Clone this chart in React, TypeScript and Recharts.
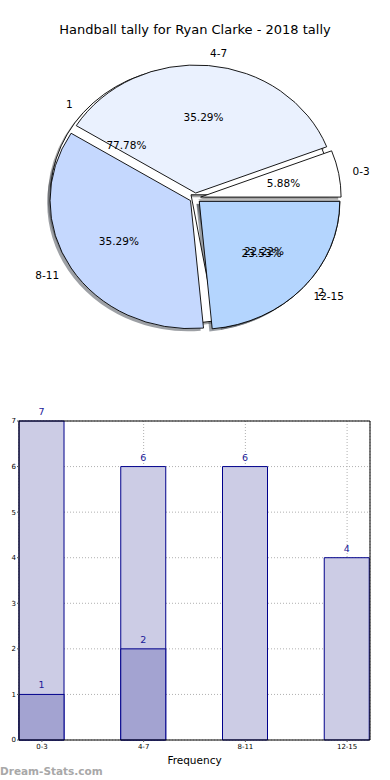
import React from 'react';
import {
  PieChart, Pie, Cell, BarChart, Bar, XAxis, YAxis, CartesianGrid, LabelList, ReferenceLine,
} from 'recharts';

// ---- data ----
const pieCategories = ['0-3', '4-7', '8-11', '12-15'];
const pieValues = [1, 6, 6, 4];
const innerNames = ['1', '2'];
const innerValues = [7, 2];

const barCategories = ['0-3', '4-7', '8-11', '12-15'];
const totalValues = [7, 6, 6, 4];
const partValues = [1, 2, 0, 0];
const yTicks = [0, 1, 2, 3, 4, 5, 6, 7];
const xTicks = [0, 1, 2, 3];

// ---- styles ----
const pieColors = ['#ffffff', '#eaf1fe', '#c5d8fe', '#b4d5fe'];
const innerColors = ['#ffffff', '#ffffff'];
const FONT = 'DejaVu Sans, Verdana, sans-serif';
const CX = 195.2;
const CY = 198;
const RX = 140.5;
const RATIO = 128 / 140.5;
const EXPLODE = 0.039;

const outerData = pieCategories.map((name, i) => ({ name, value: pieValues[i] }));
const innerData = innerNames.map((name, i) => ({ name, value: innerValues[i] }));
const barData = barCategories.map((cat, i) => ({ x: i, cat, total: totalValues[i], part: partValues[i] }));

const shadowColor = (hex: string) => {
  const h = (hex || '#ffffff').replace('#', '');
  const r = parseInt(h.slice(0, 2), 16) * 0.3;
  const g = parseInt(h.slice(2, 4), 16) * 0.3;
  const b = parseInt(h.slice(4, 6), 16) * 0.3;
  return `rgba(${Math.round(r)},${Math.round(g)},${Math.round(b)},0.5)`;
};

const ellPath = (cx: number, cy: number, rx: number, ry: number, a0: number, a1: number) => {
  const r0 = (a0 * Math.PI) / 180;
  const r1 = (a1 * Math.PI) / 180;
  const x0 = cx + rx * Math.cos(r0);
  const y0 = cy - ry * Math.sin(r0);
  const x1 = cx + rx * Math.cos(r1);
  const y1 = cy - ry * Math.sin(r1);
  const large = Math.abs(a1 - a0) > 180 ? 1 : 0;
  return `M${cx},${cy} L${x0},${y0} A${rx},${ry} 0 ${large} 0 ${x1},${y1} Z`;
};

const makeShape = (mode: 'shadow' | 'fill' | 'none') => (props: any) => {
  if (mode === 'none') return <g />;
  const { cx, cy, outerRadius, startAngle, endAngle, fill } = props;
  const rx = outerRadius;
  const ry = outerRadius * RATIO;
  const mid = (((startAngle + endAngle) / 2) * Math.PI) / 180;
  let ox = cx + EXPLODE * rx * Math.cos(mid);
  let oy = cy - EXPLODE * ry * Math.sin(mid);
  if (mode === 'shadow') {
    ox += -0.02 * rx;
    oy += 0.02 * ry;
    return <path d={ellPath(ox, oy, rx, ry, startAngle, endAngle)} fill={shadowColor(fill)} stroke="none" />;
  }
  return (
    <path
      d={ellPath(ox, oy, rx, ry, startAngle, endAngle)}
      fill={fill}
      stroke="#000"
      strokeWidth={0.9}
      strokeLinejoin="miter"
    />
  );
};

const renderLabels = (props: any) => {
  const { cx, cy, outerRadius, startAngle, endAngle, name, percent } = props;
  const rx = outerRadius;
  const ry = outerRadius * RATIO;
  const mid = (((startAngle + endAngle) / 2) * Math.PI) / 180;
  const c = Math.cos(mid);
  const s = Math.sin(mid);
  const ox = cx + EXPLODE * rx * c;
  const oy = cy - EXPLODE * ry * s;
  const lx = ox + 1.1 * rx * c;
  const ly = oy - 1.1 * ry * s;
  const px = ox + 0.6 * rx * c;
  const py = oy - 0.6 * ry * s;
  return (
    <g>
      <text x={lx} y={ly} textAnchor={c >= 0 ? 'start' : 'end'} dominantBaseline="central"
        fontFamily={FONT} fontSize={10.5} fill="#000">{name}</text>
      <text x={px} y={py} textAnchor="middle" dominantBaseline="central"
        fontFamily={FONT} fontSize={10.5} fill="#000">{`${(percent * 100).toFixed(2)}%`}</text>
    </g>
  );
};

const pieCommon = {
  dataKey: 'value',
  nameKey: 'name',
  cx: CX,
  cy: CY,
  outerRadius: RX,
  innerRadius: 0,
  startAngle: 0,
  endAngle: 360,
  isAnimationActive: false,
  labelLine: false,
} as any;

export default function App() {
  return (
    <div style={{ position: 'absolute', left: 0, top: 0, width: 390, height: 780, background: '#fff', overflow: 'hidden' }}>
      <div style={{
        position: 'absolute', left: 0, top: 22, width: 390, height: 16, lineHeight: '16px',
        textAlign: 'center', fontFamily: FONT, fontSize: 13, color: '#000',
      }}>
        Handball tally for Ryan Clarke - 2018 tally
      </div>
      <div style={{ position: 'absolute', left: 0, top: 0 }}>
        <PieChart width={390} height={390} margin={{ top: 0, right: 0, bottom: 0, left: 0 }}>
          <Pie {...pieCommon} data={innerData} shape={makeShape('shadow')} inactiveShape={makeShape('shadow')} activeShape={makeShape('shadow')} label={false}>
            {innerData.map((d, i) => <Cell key={d.name} fill={innerColors[i]} />)}
          </Pie>
          <Pie {...pieCommon} data={outerData} shape={makeShape('shadow')} inactiveShape={makeShape('shadow')} activeShape={makeShape('shadow')} label={false}>
            {outerData.map((d, i) => <Cell key={d.name} fill={pieColors[i]} />)}
          </Pie>
          <Pie {...pieCommon} data={innerData} shape={makeShape('fill')} inactiveShape={makeShape('fill')} activeShape={makeShape('fill')} label={false}>
            {innerData.map((d, i) => <Cell key={d.name} fill={innerColors[i]} />)}
          </Pie>
          <Pie {...pieCommon} data={outerData} shape={makeShape('fill')} inactiveShape={makeShape('fill')} activeShape={makeShape('fill')} label={false}>
            {outerData.map((d, i) => <Cell key={d.name} fill={pieColors[i]} />)}
          </Pie>
          <Pie {...pieCommon} data={outerData} shape={makeShape('none')} inactiveShape={makeShape('none')} activeShape={makeShape('none')} label={renderLabels} />
          <Pie {...pieCommon} data={innerData} shape={makeShape('none')} inactiveShape={makeShape('none')} activeShape={makeShape('none')} label={renderLabels} />
        </PieChart>
      </div>
      <div style={{ position: 'absolute', left: 0, top: 390 }}>
        <BarChart width={390} height={390} data={barData} margin={{ top: 31, right: 20, bottom: 0, left: 0 }}
          barSize={45} barGap={-45}>
          <CartesianGrid stroke="#b0b0b0" strokeDasharray="1 2" />
          <XAxis
            dataKey="x" type="number" domain={[-0.225, 3.225]} ticks={xTicks}
            tickFormatter={(v: number) => barCategories[v] ?? ''}
            height={40} axisLine={{ stroke: '#000' }} tickLine={{ stroke: '#555' }} tickSize={2} tickMargin={2}
            tick={{ fontSize: 7, fill: '#000', fontFamily: FONT }}
            label={{ value: 'Frequency', position: 'insideBottom', offset: 16, fontSize: 10.5, fill: '#000', fontFamily: FONT }}
          />
          <YAxis
            type="number" domain={[0, 7]} ticks={yTicks} width={19}
            axisLine={{ stroke: '#000' }} tickLine={{ stroke: '#555' }} tickSize={2} tickMargin={1}
            tick={{ fontSize: 7, fill: '#000', fontFamily: FONT }}
          />
          <ReferenceLine y={7} stroke="#000" strokeWidth={1} />
          <ReferenceLine x={3.225} stroke="#000" strokeWidth={1} />
          <Bar dataKey="total" fill="#ccccE5" stroke="#00008b" strokeWidth={1} isAnimationActive={false}>
            <LabelList dataKey="total" position="top" offset={6}
              formatter={(v: any) => (v ? String(v) : '')}
              style={{ fontSize: 9.5, fill: '#1a1a99', fontFamily: FONT }} />
          </Bar>
          <Bar dataKey="part" fill="#a3a3d1" stroke="#00008b" strokeWidth={1} isAnimationActive={false}>
            <LabelList dataKey="part" position="top" offset={6}
              formatter={(v: any) => (v ? String(v) : '')}
              style={{ fontSize: 9.5, fill: '#1a1a99', fontFamily: FONT }} />
          </Bar>
        </BarChart>
      </div>
      <div style={{
        position: 'absolute', left: 0, top: 764, height: 14, lineHeight: '14px',
        fontFamily: FONT, fontSize: 10.5, fontWeight: 'bold', color: '#a8a8a8',
      }}>
        Dream-Stats.com
      </div>
    </div>
  );
}
